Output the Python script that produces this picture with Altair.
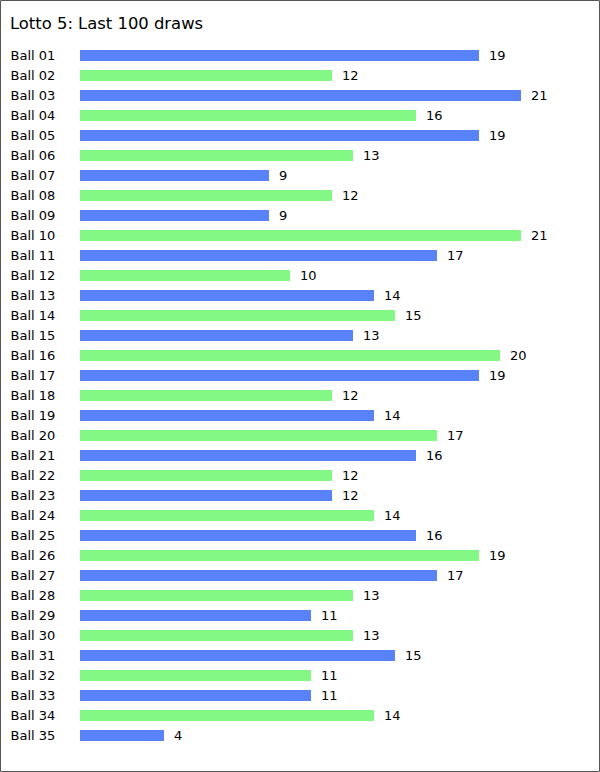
import altair as alt
import pandas as pd

balls = [f"Ball {i:02d}" for i in range(1, 36)]
counts = [19, 12, 21, 16, 19, 13, 9, 12, 9, 21, 17, 10, 14, 15, 13, 20, 19, 12, 14, 17,
          16, 12, 12, 14, 16, 19, 17, 13, 11, 13, 15, 11, 11, 14, 4]
parity = ["odd" if i % 2 == 1 else "even" for i in range(1, 36)]
colors = ["#5882f8", "#84f884"]

df = pd.DataFrame({"ball": balls, "count": counts, "parity": parity})

FONT = "DejaVu Sans"

y = alt.Y("ball:N", sort=balls, title=None,
          scale=alt.Scale(paddingInner=0, paddingOuter=0),
          axis=alt.Axis(ticks=False, domain=False, labelAlign="left", labelPadding=70,
                        labelOffset=1, labelFont=FONT, labelFontSize=13, labelColor="#000"))
x = alt.X("count:Q", scale=alt.Scale(domain=[0, 21]), axis=None, title=None)

base = alt.Chart(df)

bars = base.mark_bar(size=11, yOffset=0.5).encode(
    x=x, y=y,
    color=alt.Color("parity:N", scale=alt.Scale(domain=["odd", "even"], range=colors), legend=None),
)

labels = base.mark_text(align="left", baseline="middle", dx=10, dy=0.5,
                        font=FONT, fontSize=13, color="#000").encode(
    x=x, y=y, text="count:Q")

border = alt.Chart(pd.DataFrame({"a": [0]})).mark_rect(
    fill=None, stroke="#555", strokeWidth=1, clip=False).encode(
    x=alt.value(-79.5), x2=alt.value(519.5), y=alt.value(-44.5), y2=alt.value(726.5))

chart = alt.layer(bars, labels, border).properties(
    width=441, height=700,
    autosize=alt.AutoSizeParams(type="none"),
    padding={"left": 80, "top": 45, "right": 79, "bottom": 27},
    title=alt.Title("Lotto 5: Last 100 draws", anchor="start", frame="group",
                    baseline="alphabetic", dx=-70, dy=60.5,
                    font=FONT, fontSize=16.4, fontWeight="normal", color="#000", offset=15),
).configure(background="white").configure_view(strokeWidth=0, stroke="transparent")

chart.save("out.html", embed_options={"renderer": "svg", "actions": False})
